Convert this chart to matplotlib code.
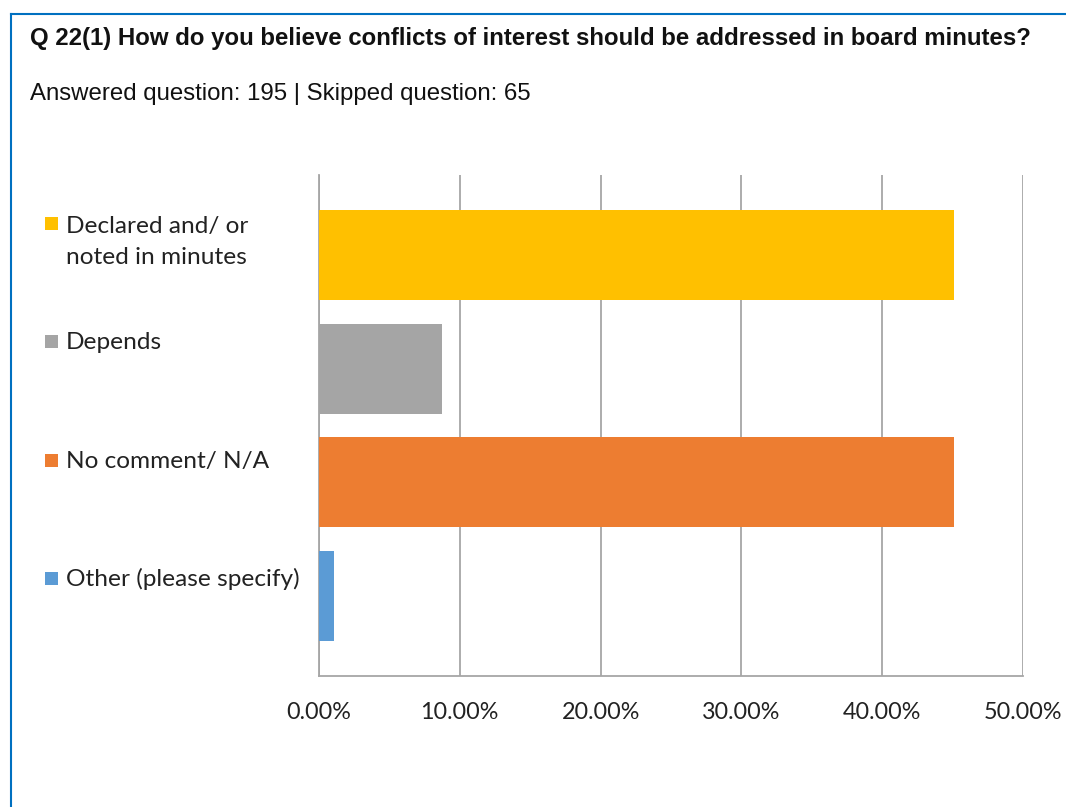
import matplotlib.pyplot as plt
from matplotlib.lines import Line2D
from matplotlib.patches import Rectangle
from matplotlib.ticker import FuncFormatter

# survey answers (share of respondents)
categories = ["Declared and/ or\nnoted in minutes", "Depends", "No comment/ N/A", "Other (please specify)"]
shares = [0.4513, 0.0872, 0.4513, 0.0103]
colors = ["#FFC000", "#A5A5A5", "#ED7D31", "#5B9BD5"]
x_ticks = [0.0, 0.1, 0.2, 0.3, 0.4, 0.5]

title = "Q 22(1) How do you believe conflicts of interest should be addressed in board minutes?"
subtitle = "Answered question: 195 | Skipped question: 65"

W, H = 1066, 807
fig = plt.figure(figsize=(W / 100, H / 100), dpi=100)

def fx(px):
    return px / W

def fy(py):
    return 1 - py / H

ax = fig.add_axes([fx(319), fy(676), fx(1023) - fx(319), fy(175) - fy(676)])
ypos = list(range(len(categories)))
ax.barh(ypos, shares, height=0.79, color=colors, zorder=3)
ax.set_ylim(3.7, -0.7)
ax.set_xlim(0, 0.5)
ax.set_xticks(x_ticks)
ax.xaxis.set_major_formatter(FuncFormatter(lambda v, p: f"{v * 100:.2f}%"))
ax.set_yticks([])
ax.tick_params(axis="x", length=0, pad=19, labelsize=16.8, labelcolor="#222222")
for lab in ax.get_xticklabels():
    lab.set_family(["Lato", "DejaVu Sans"])
ax.grid(axis="x", color="#A6A6A6", lw=1.3, zorder=0)
for side in ["top", "right"]:
    ax.spines[side].set_visible(False)
for side in ["left", "bottom"]:
    ax.spines[side].set_color("#A6A6A6")
    ax.spines[side].set_linewidth(1.3)

# legend-style labels on the left
lab_y0, lab_step, line_gap = 231, 118.3, 33
for i, (cat, col) in enumerate(zip(categories, colors)):
    yb = lab_y0 + i * lab_step
    fig.patches.append(Rectangle((fx(45), fy(yb - 1)), fx(13), fy(0) - fy(13),
                                 transform=fig.transFigure, color=col, lw=0))
    n_extra = cat.count("\n")
    fig.text(fx(66), fy(yb + n_extra * line_gap), cat, fontsize=17.6,
             family=["Lato", "DejaVu Sans"], color="#222222", va="baseline",
             ha="left", linespacing=1.57)

fig.text(fx(30), fy(39), title, fontsize=17.3, fontweight="bold",
         family=["Liberation Sans", "DejaVu Sans"], va="center", ha="left", color="#111111")
fig.text(fx(30), fy(94), subtitle, fontsize=17.3,
         family=["Liberation Sans", "DejaVu Sans"], va="center", ha="left", color="#111111")

# blue frame at top and left
fig.add_artist(Line2D([fx(11), 1], [fy(14), fy(14)], color="#0070C0", lw=1.5))
fig.add_artist(Line2D([fx(11), fx(11)], [fy(14), 0], color="#0070C0", lw=1.5))

fig.savefig("out.png", dpi=100)
